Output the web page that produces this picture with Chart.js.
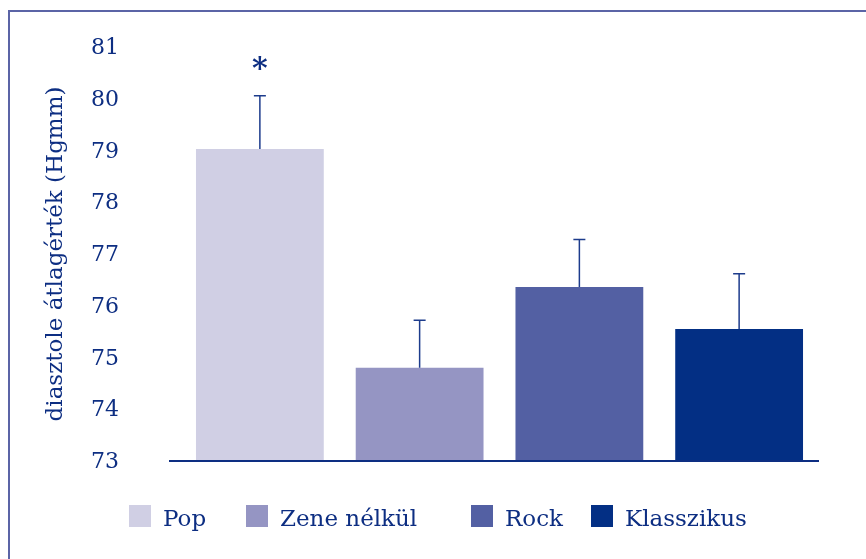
<!DOCTYPE html>
<html>
<head>
<meta charset="utf-8">
<script src="https://cdn.jsdelivr.net/npm/chart.js@4/dist/chart.umd.min.js"></script>
<style>
  html, body { margin: 0; padding: 0; background: #ffffff; }
  #wrap { position: relative; width: 866px; height: 559px; }
</style>
</head>
<body>
<div id="wrap"><canvas id="c" width="866" height="559"></canvas></div>
<script>
// Mean diastolic pressure by music condition, with error bars
const categories = ['Pop', 'Zene nélkül', 'Rock', 'Klasszikus'];
const means = [79.03, 74.80, 76.36, 75.55];
const errors = [1.03, 0.92, 0.92, 1.07];
const significance = ['*', '', '', ''];
const yTicks = [73, 74, 75, 76, 77, 78, 79, 80, 81];

const barColors = ['#d0cfe4', '#9595c3', '#5360a3', '#032f84'];
const navy = '#0d2e82';
const frameColor = '#5b64a6';
const serif = "'DejaVu Serif', serif";

// Frame around the figure: top and left rules
const framePlugin = {
  id: 'frame',
  beforeDraw(chart) {
    const ctx = chart.ctx;
    ctx.save();
    ctx.strokeStyle = frameColor;
    ctx.lineWidth = 2;
    ctx.beginPath();
    ctx.moveTo(866, 11);
    ctx.lineTo(9, 11);
    ctx.lineTo(9, 559);
    ctx.stroke();
    ctx.restore();
  }
};

// Baseline rule, running a little past the plot on the left
const baselinePlugin = {
  id: 'baseline',
  afterDatasetsDraw(chart) {
    const ctx = chart.ctx;
    const { left, right } = chart.chartArea;
    const y0 = chart.scales.y.getPixelForValue(chart.scales.y.min);
    ctx.save();
    ctx.strokeStyle = navy;
    ctx.lineWidth = 2;
    ctx.beginPath();
    ctx.moveTo(left - 11, y0);
    ctx.lineTo(right, y0);
    ctx.stroke();
    ctx.restore();
  }
};

// Upper error whiskers and significance marks
const errorPlugin = {
  id: 'errors',
  afterDatasetsDraw(chart) {
    const ctx = chart.ctx;
    const y = chart.scales.y;
    const meta = chart.getDatasetMeta(0);
    ctx.save();
    meta.data.forEach((bar, i) => {
      const top = y.getPixelForValue(means[i] + errors[i]);
      ctx.strokeStyle = '#1d3c8c';
      ctx.lineWidth = 1.5;
      ctx.beginPath();
      ctx.moveTo(bar.x, bar.y);
      ctx.lineTo(bar.x, top);
      ctx.moveTo(bar.x - 6, top);
      ctx.lineTo(bar.x + 6, top);
      ctx.stroke();
      if (significance[i]) {
        ctx.fillStyle = navy;
        ctx.font = "bold 30px " + serif;
        ctx.textAlign = 'center';
        ctx.textBaseline = 'middle';
        ctx.fillText(significance[i], bar.x, y.getPixelForValue(means[i] + errors[i] + 0.6) + 6);
      }
    });
    ctx.restore();
  }
};

// Legend row below the plot
const legendPlugin = {
  id: 'legendRow',
  afterDraw(chart) {
    const ctx = chart.ctx;
    const boxX = [129, 246, 471, 591];
    const boxY = 505, box = 22;
    ctx.save();
    ctx.font = "23px " + serif;
    ctx.textBaseline = 'alphabetic';
    ctx.textAlign = 'left';
    categories.forEach((name, i) => {
      ctx.fillStyle = barColors[i];
      ctx.fillRect(boxX[i], boxY, box, box);
      ctx.fillStyle = navy;
      ctx.fillText(name, boxX[i] + box + 12, 526);
    });
    ctx.restore();
  }
};

new Chart(document.getElementById('c'), {
  type: 'bar',
  data: {
    labels: categories,
    datasets: [{
      data: means,
      backgroundColor: barColors,
      borderWidth: 0,
      barPercentage: 0.80,
      categoryPercentage: 1.0
    }]
  },
  options: {
    responsive: false,
    animation: false,
    devicePixelRatio: 1,
    layout: { padding: { left: 0, right: 47, top: 47, bottom: 98 } },
    plugins: { legend: { display: false }, tooltip: { enabled: false } },
    scales: {
      x: {
        grid: { display: false },
        ticks: { display: false },
        border: { display: false },
        afterFit(scale) {
          scale.height = 0;
          scale.paddingLeft = 0; scale.paddingRight = 0;
        }
      },
      y: {
        min: 73,
        max: 81,
        afterBuildTicks(scale) { scale.ticks = yTicks.map(v => ({ value: v })); },
        afterFit(scale) {
          scale.width = 180;
          scale.paddingTop = 0; scale.paddingBottom = 0;
        },
        grid: { display: false, drawTicks: false },
        border: { display: false },
        ticks: {
          padding: 61,
          labelOffset: 1.5,
          color: navy,
          font: { family: serif, size: 22 }
        },
        title: {
          display: true,
          text: 'diasztole átlagérték (Hgmm)',
          color: navy,
          font: { family: serif, size: 23 },
          padding: { top: 42, bottom: 0 }
        }
      }
    }
  },
  plugins: [framePlugin, baselinePlugin, errorPlugin, legendPlugin]
});
</script>
</body>
</html>
